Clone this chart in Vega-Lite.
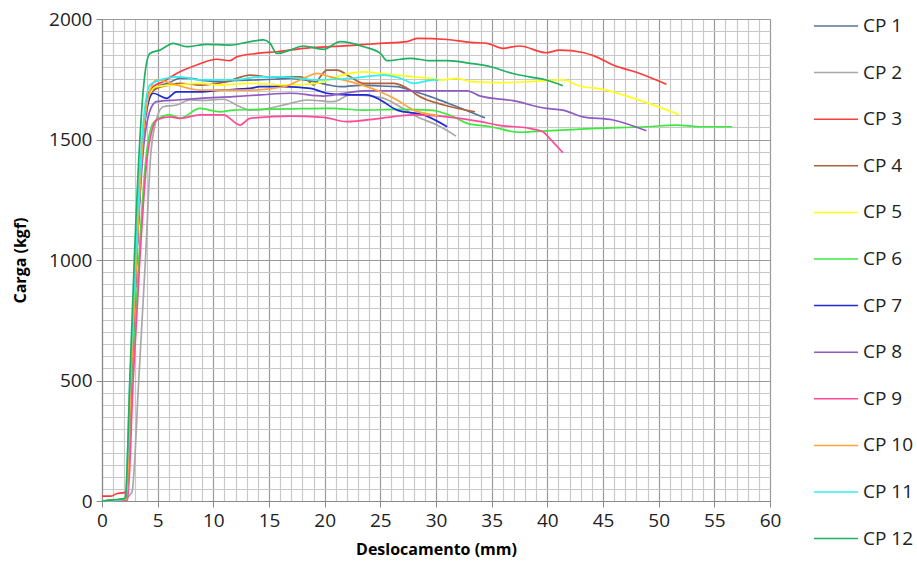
{
  "$schema": "https://vega.github.io/schema/vega-lite/v6.json",
  "autosize": {"type": "none"},
  "padding": {"left": 102, "top": 19, "right": 147, "bottom": 60},
  "width": 668,
  "height": 482,
  "background": "white",
  "config": {
    "view": {"stroke": null},
    "font": "Open Sans"
  },
  "datasets": {
    "curves": [
      {"cp":"CP 1","x":0,"y":0},{"cp":"CP 1","x":2.2,"y":10},{"cp":"CP 1","x":2.6,"y":500},{"cp":"CP 1","x":3.1,"y":1000},{"cp":"CP 1","x":3.6,"y":1450},{"cp":"CP 1","x":4.2,"y":1680},{"cp":"CP 1","x":5,"y":1720},{"cp":"CP 1","x":6,"y":1735},{"cp":"CP 1","x":7,"y":1754},{"cp":"CP 1","x":7.9,"y":1754},{"cp":"CP 1","x":9,"y":1745},{"cp":"CP 1","x":10.9,"y":1740},{"cp":"CP 1","x":12,"y":1745},{"cp":"CP 1","x":13.9,"y":1747},{"cp":"CP 1","x":15.5,"y":1750},{"cp":"CP 1","x":16.9,"y":1754},{"cp":"CP 1","x":18.5,"y":1745},{"cp":"CP 1","x":20,"y":1730},{"cp":"CP 1","x":21.4,"y":1719},{"cp":"CP 1","x":23.5,"y":1726},{"cp":"CP 1","x":25,"y":1722},{"cp":"CP 1","x":26.5,"y":1719},{"cp":"CP 1","x":28,"y":1700},{"cp":"CP 1","x":29.5,"y":1678},{"cp":"CP 1","x":31.9,"y":1636},{"cp":"CP 1","x":34.4,"y":1590},

      {"cp":"CP 2","x":0,"y":0},{"cp":"CP 2","x":2.0,"y":5},{"cp":"CP 2","x":2.5,"y":25},{"cp":"CP 2","x":2.7,"y":38},{"cp":"CP 2","x":3.3,"y":500},{"cp":"CP 2","x":3.9,"y":1000},{"cp":"CP 2","x":4.4,"y":1450},{"cp":"CP 2","x":5,"y":1600},{"cp":"CP 2","x":5.5,"y":1636},{"cp":"CP 2","x":6.7,"y":1643},{"cp":"CP 2","x":7.9,"y":1664},{"cp":"CP 2","x":9,"y":1662},{"cp":"CP 2","x":10.9,"y":1667},{"cp":"CP 2","x":12.4,"y":1636},{"cp":"CP 2","x":13.3,"y":1622},{"cp":"CP 2","x":14.5,"y":1625},{"cp":"CP 2","x":16.9,"y":1650},{"cp":"CP 2","x":18.4,"y":1664},{"cp":"CP 2","x":20.8,"y":1657},{"cp":"CP 2","x":22.3,"y":1685},{"cp":"CP 2","x":25,"y":1675},{"cp":"CP 2","x":27,"y":1630},{"cp":"CP 2","x":28.3,"y":1594},{"cp":"CP 2","x":30.1,"y":1560},{"cp":"CP 2","x":31.8,"y":1514},

      {"cp":"CP 3","x":0,"y":20},{"cp":"CP 3","x":0.8,"y":20},{"cp":"CP 3","x":1.3,"y":30},{"cp":"CP 3","x":2.0,"y":35},{"cp":"CP 3","x":2.2,"y":40},{"cp":"CP 3","x":2.6,"y":500},{"cp":"CP 3","x":3.1,"y":1000},{"cp":"CP 3","x":3.6,"y":1450},{"cp":"CP 3","x":4.1,"y":1680},{"cp":"CP 3","x":4.6,"y":1719},{"cp":"CP 3","x":5.5,"y":1740},{"cp":"CP 3","x":6.7,"y":1774},{"cp":"CP 3","x":8.5,"y":1809},{"cp":"CP 3","x":10.3,"y":1833},{"cp":"CP 3","x":11.5,"y":1827},{"cp":"CP 3","x":12.1,"y":1843},{"cp":"CP 3","x":13.9,"y":1857},{"cp":"CP 3","x":15.7,"y":1864},{"cp":"CP 3","x":18.1,"y":1878},{"cp":"CP 3","x":20.5,"y":1885},{"cp":"CP 3","x":22.9,"y":1892},{"cp":"CP 3","x":25,"y":1899},{"cp":"CP 3","x":27.4,"y":1906},{"cp":"CP 3","x":28.3,"y":1920},{"cp":"CP 3","x":31,"y":1915},{"cp":"CP 3","x":33.1,"y":1903},{"cp":"CP 3","x":34.6,"y":1899},{"cp":"CP 3","x":36,"y":1878},{"cp":"CP 3","x":37.5,"y":1888},{"cp":"CP 3","x":39.9,"y":1860},{"cp":"CP 3","x":41.1,"y":1871},{"cp":"CP 3","x":43.2,"y":1861},{"cp":"CP 3","x":44.4,"y":1843},{"cp":"CP 3","x":45.9,"y":1809},{"cp":"CP 3","x":48,"y":1779},{"cp":"CP 3","x":50.7,"y":1729},

      {"cp":"CP 4","x":0,"y":0},{"cp":"CP 4","x":2.2,"y":10},{"cp":"CP 4","x":2.6,"y":500},{"cp":"CP 4","x":3.1,"y":1000},{"cp":"CP 4","x":3.6,"y":1450},{"cp":"CP 4","x":4.2,"y":1680},{"cp":"CP 4","x":4.9,"y":1712},{"cp":"CP 4","x":6,"y":1725},{"cp":"CP 4","x":7,"y":1733},{"cp":"CP 4","x":8.8,"y":1726},{"cp":"CP 4","x":11.2,"y":1740},{"cp":"CP 4","x":13.3,"y":1767},{"cp":"CP 4","x":15.1,"y":1760},{"cp":"CP 4","x":17.8,"y":1760},{"cp":"CP 4","x":18.5,"y":1745},{"cp":"CP 4","x":19.0,"y":1726},{"cp":"CP 4","x":19.6,"y":1760},{"cp":"CP 4","x":20.2,"y":1788},{"cp":"CP 4","x":21.1,"y":1788},{"cp":"CP 4","x":22.3,"y":1760},{"cp":"CP 4","x":23.5,"y":1733},{"cp":"CP 4","x":26.2,"y":1733},{"cp":"CP 4","x":27.7,"y":1705},{"cp":"CP 4","x":28.3,"y":1685},{"cp":"CP 4","x":30.7,"y":1643},{"cp":"CP 4","x":33.5,"y":1615},

      {"cp":"CP 5","x":0,"y":0},{"cp":"CP 5","x":2.2,"y":10},{"cp":"CP 5","x":2.6,"y":500},{"cp":"CP 5","x":3.1,"y":1000},{"cp":"CP 5","x":3.6,"y":1450},{"cp":"CP 5","x":4.3,"y":1690},{"cp":"CP 5","x":4.9,"y":1719},{"cp":"CP 5","x":6.7,"y":1726},{"cp":"CP 5","x":8.8,"y":1733},{"cp":"CP 5","x":10.6,"y":1726},{"cp":"CP 5","x":13.3,"y":1733},{"cp":"CP 5","x":16.3,"y":1726},{"cp":"CP 5","x":19.3,"y":1733},{"cp":"CP 5","x":21.1,"y":1760},{"cp":"CP 5","x":22.0,"y":1772},{"cp":"CP 5","x":23.5,"y":1781},{"cp":"CP 5","x":25,"y":1774},{"cp":"CP 5","x":28,"y":1760},{"cp":"CP 5","x":29.5,"y":1754},{"cp":"CP 5","x":30.4,"y":1747},{"cp":"CP 5","x":31.9,"y":1754},{"cp":"CP 5","x":33.1,"y":1740},{"cp":"CP 5","x":36,"y":1736},{"cp":"CP 5","x":38.4,"y":1740},{"cp":"CP 5","x":41.4,"y":1747},{"cp":"CP 5","x":42.9,"y":1722},{"cp":"CP 5","x":45,"y":1708},{"cp":"CP 5","x":46.8,"y":1685},{"cp":"CP 5","x":48.9,"y":1653},{"cp":"CP 5","x":51.8,"y":1604},

      {"cp":"CP 6","x":0,"y":0},{"cp":"CP 6","x":2.2,"y":5},{"cp":"CP 6","x":2.7,"y":500},{"cp":"CP 6","x":3.3,"y":1000},{"cp":"CP 6","x":3.9,"y":1400},{"cp":"CP 6","x":4.5,"y":1560},{"cp":"CP 6","x":4.9,"y":1581},{"cp":"CP 6","x":6.1,"y":1602},{"cp":"CP 6","x":7,"y":1588},{"cp":"CP 6","x":8.8,"y":1629},{"cp":"CP 6","x":10.6,"y":1615},{"cp":"CP 6","x":11.8,"y":1622},{"cp":"CP 6","x":14.2,"y":1625},{"cp":"CP 6","x":17,"y":1627},{"cp":"CP 6","x":20.5,"y":1629},{"cp":"CP 6","x":23.5,"y":1622},{"cp":"CP 6","x":26.5,"y":1625},{"cp":"CP 6","x":29.5,"y":1622},{"cp":"CP 6","x":31.6,"y":1594},{"cp":"CP 6","x":32.8,"y":1567},{"cp":"CP 6","x":34.9,"y":1553},{"cp":"CP 6","x":37.5,"y":1530},{"cp":"CP 6","x":39.9,"y":1536},{"cp":"CP 6","x":44.4,"y":1546},{"cp":"CP 6","x":48.9,"y":1553},{"cp":"CP 6","x":51.6,"y":1560},{"cp":"CP 6","x":53.7,"y":1553},{"cp":"CP 6","x":56.6,"y":1553},

      {"cp":"CP 7","x":0,"y":0},{"cp":"CP 7","x":2.2,"y":8},{"cp":"CP 7","x":2.6,"y":500},{"cp":"CP 7","x":3.1,"y":1000},{"cp":"CP 7","x":3.6,"y":1450},{"cp":"CP 7","x":4.2,"y":1660},{"cp":"CP 7","x":4.6,"y":1692},{"cp":"CP 7","x":5.8,"y":1671},{"cp":"CP 7","x":6.7,"y":1698},{"cp":"CP 7","x":8.8,"y":1698},{"cp":"CP 7","x":10.6,"y":1705},{"cp":"CP 7","x":13.3,"y":1712},{"cp":"CP 7","x":14.2,"y":1719},{"cp":"CP 7","x":16.3,"y":1719},{"cp":"CP 7","x":18.7,"y":1712},{"cp":"CP 7","x":20.2,"y":1692},{"cp":"CP 7","x":22,"y":1685},{"cp":"CP 7","x":23.8,"y":1685},{"cp":"CP 7","x":25,"y":1664},{"cp":"CP 7","x":26.5,"y":1622},{"cp":"CP 7","x":28.9,"y":1602},{"cp":"CP 7","x":31,"y":1553},

      {"cp":"CP 8","x":0,"y":0},{"cp":"CP 8","x":2.2,"y":8},{"cp":"CP 8","x":2.6,"y":500},{"cp":"CP 8","x":3.1,"y":1000},{"cp":"CP 8","x":3.7,"y":1450},{"cp":"CP 8","x":4.4,"y":1630},{"cp":"CP 8","x":4.9,"y":1657},{"cp":"CP 8","x":6.7,"y":1664},{"cp":"CP 8","x":8.8,"y":1671},{"cp":"CP 8","x":11.8,"y":1678},{"cp":"CP 8","x":14.2,"y":1685},{"cp":"CP 8","x":16.9,"y":1692},{"cp":"CP 8","x":19.9,"y":1680},{"cp":"CP 8","x":21.5,"y":1690},{"cp":"CP 8","x":23.5,"y":1702},{"cp":"CP 8","x":28,"y":1702},{"cp":"CP 8","x":32.8,"y":1702},{"cp":"CP 8","x":34,"y":1680},{"cp":"CP 8","x":36.9,"y":1661},{"cp":"CP 8","x":39.9,"y":1629},{"cp":"CP 8","x":41.4,"y":1622},{"cp":"CP 8","x":43.2,"y":1594},{"cp":"CP 8","x":45.9,"y":1581},{"cp":"CP 8","x":48.9,"y":1536},

      {"cp":"CP 9","x":0,"y":0},{"cp":"CP 9","x":2.3,"y":5},{"cp":"CP 9","x":2.8,"y":500},{"cp":"CP 9","x":3.4,"y":1000},{"cp":"CP 9","x":4.0,"y":1400},{"cp":"CP 9","x":4.5,"y":1540},{"cp":"CP 9","x":4.9,"y":1581},{"cp":"CP 9","x":6.1,"y":1594},{"cp":"CP 9","x":7,"y":1588},{"cp":"CP 9","x":8.8,"y":1602},{"cp":"CP 9","x":10.9,"y":1602},{"cp":"CP 9","x":12.4,"y":1560},{"cp":"CP 9","x":13.3,"y":1588},{"cp":"CP 9","x":16.9,"y":1597},{"cp":"CP 9","x":19.9,"y":1592},{"cp":"CP 9","x":22,"y":1574},{"cp":"CP 9","x":25,"y":1588},{"cp":"CP 9","x":28,"y":1602},{"cp":"CP 9","x":31,"y":1594},{"cp":"CP 9","x":34,"y":1574},{"cp":"CP 9","x":35.5,"y":1560},{"cp":"CP 9","x":38.4,"y":1546},{"cp":"CP 9","x":39.6,"y":1532},{"cp":"CP 9","x":40.2,"y":1505},{"cp":"CP 9","x":41.4,"y":1445},

      {"cp":"CP 10","x":0,"y":0},{"cp":"CP 10","x":2.2,"y":8},{"cp":"CP 10","x":2.6,"y":500},{"cp":"CP 10","x":3.1,"y":1000},{"cp":"CP 10","x":3.6,"y":1450},{"cp":"CP 10","x":4.3,"y":1700},{"cp":"CP 10","x":4.9,"y":1747},{"cp":"CP 10","x":6.7,"y":1726},{"cp":"CP 10","x":8.8,"y":1705},{"cp":"CP 10","x":11.8,"y":1705},{"cp":"CP 10","x":13.3,"y":1705},{"cp":"CP 10","x":16.3,"y":1719},{"cp":"CP 10","x":18.4,"y":1760},{"cp":"CP 10","x":19.3,"y":1774},{"cp":"CP 10","x":20.5,"y":1760},{"cp":"CP 10","x":22.3,"y":1740},{"cp":"CP 10","x":25,"y":1698},{"cp":"CP 10","x":26.5,"y":1664},{"cp":"CP 10","x":28,"y":1622},{"cp":"CP 10","x":29.5,"y":1604},{"cp":"CP 10","x":30.2,"y":1600},

      {"cp":"CP 11","x":0,"y":0},{"cp":"CP 11","x":2.1,"y":8},{"cp":"CP 11","x":2.5,"y":500},{"cp":"CP 11","x":3.0,"y":1000},{"cp":"CP 11","x":3.5,"y":1450},{"cp":"CP 11","x":4.0,"y":1680},{"cp":"CP 11","x":4.3,"y":1726},{"cp":"CP 11","x":5.8,"y":1754},{"cp":"CP 11","x":7,"y":1760},{"cp":"CP 11","x":8.8,"y":1747},{"cp":"CP 11","x":11.8,"y":1747},{"cp":"CP 11","x":14.2,"y":1760},{"cp":"CP 11","x":16.3,"y":1760},{"cp":"CP 11","x":19.3,"y":1747},{"cp":"CP 11","x":22.3,"y":1754},{"cp":"CP 11","x":25.3,"y":1767},{"cp":"CP 11","x":26.8,"y":1754},{"cp":"CP 11","x":28,"y":1733},{"cp":"CP 11","x":29.8,"y":1747},{"cp":"CP 11","x":30.2,"y":1745},

      {"cp":"CP 12","x":0,"y":0},{"cp":"CP 12","x":1.0,"y":5},{"cp":"CP 12","x":2.0,"y":10},{"cp":"CP 12","x":2.1,"y":15},{"cp":"CP 12","x":2.5,"y":500},{"cp":"CP 12","x":2.9,"y":1000},{"cp":"CP 12","x":3.4,"y":1500},{"cp":"CP 12","x":3.8,"y":1750},{"cp":"CP 12","x":4.3,"y":1857},{"cp":"CP 12","x":5.2,"y":1871},{"cp":"CP 12","x":6.4,"y":1899},{"cp":"CP 12","x":7.6,"y":1885},{"cp":"CP 12","x":9.4,"y":1895},{"cp":"CP 12","x":11.5,"y":1892},{"cp":"CP 12","x":13,"y":1903},{"cp":"CP 12","x":14.5,"y":1913},{"cp":"CP 12","x":15.1,"y":1899},{"cp":"CP 12","x":15.7,"y":1857},{"cp":"CP 12","x":16.9,"y":1871},{"cp":"CP 12","x":18.1,"y":1888},{"cp":"CP 12","x":19.9,"y":1874},{"cp":"CP 12","x":21.4,"y":1906},{"cp":"CP 12","x":23.5,"y":1885},{"cp":"CP 12","x":25,"y":1857},{"cp":"CP 12","x":25.6,"y":1827},{"cp":"CP 12","x":27.7,"y":1837},{"cp":"CP 12","x":29.5,"y":1827},{"cp":"CP 12","x":31,"y":1827},{"cp":"CP 12","x":33.1,"y":1816},{"cp":"CP 12","x":34.9,"y":1802},{"cp":"CP 12","x":36.9,"y":1774},{"cp":"CP 12","x":38.4,"y":1760},{"cp":"CP 12","x":39.9,"y":1747},{"cp":"CP 12","x":41.4,"y":1723}
    ]
  },
  "data": {"name": "curves"},
  "mark": {"type": "line", "strokeWidth": 1.7, "interpolate": "monotone"},
  "encoding": {
    "x": {
      "field": "x", "type": "quantitative",
      "scale": {"domain": [0, 60], "nice": false, "zero": false},
      "axis": {
        "title": "Deslocamento (mm)",
        "titleFont": "Open Sans", "titleFontSize": 16, "titleFontWeight": "bold", "titleColor": "#000",
        "titlePadding": 11,
        "values": [0,1,2,3,4,5,6,7,8,9,10,11,12,13,14,15,16,17,18,19,20,21,22,23,24,25,26,27,28,29,30,31,32,33,34,35,36,37,38,39,40,41,42,43,44,45,46,47,48,49,50,51,52,53,54,55,56,57,58,59,60],
        "labelExpr": "datum.value % 5 === 0 ? datum.label : ''",
        "labelFont": "Open Sans", "labelFontSize": 19, "labelColor": "#222", "labelPadding": 4,
        "labelFlush": false, "labelOverlap": false,
        "grid": true,
        "gridColor": {"condition": {"test": "datum.value % 5 === 0", "value": "#9a9a9a"}, "value": "#c8c8c8"},
        "gridWidth": 1.2,
        "tickSize": {"condition": {"test": "datum.value % 5 === 0", "value": 6}, "value": 0},
        "tickColor": "#8a8a8a",
        "domainColor": "#8a8a8a", "domainWidth": 1.2
      }
    },
    "y": {
      "field": "y", "type": "quantitative",
      "scale": {"domain": [0, 2000], "nice": false},
      "axis": {
        "title": "Carga (kgf)",
        "titleFont": "Open Sans", "titleFontSize": 16, "titleFontWeight": "bold", "titleColor": "#000",
        "titlePadding": 20,
        "values": [0,50,100,150,200,250,300,350,400,450,500,550,600,650,700,750,800,850,900,950,1000,1050,1100,1150,1200,1250,1300,1350,1400,1450,1500,1550,1600,1650,1700,1750,1800,1850,1900,1950,2000],
        "labelExpr": "datum.value % 500 === 0 ? datum.label : ''",
        "format": "d",
        "labelFont": "Open Sans", "labelFontSize": 19, "labelColor": "#222", "labelPadding": 4,
        "labelFlush": false, "labelOverlap": false,
        "grid": true,
        "gridColor": {"condition": {"test": "datum.value % 500 === 0", "value": "#9a9a9a"}, "value": "#c8c8c8"},
        "gridWidth": 1.2,
        "tickSize": {"condition": {"test": "datum.value % 500 === 0", "value": 6}, "value": 0},
        "tickColor": "#8a8a8a",
        "domainColor": "#8a8a8a", "domainWidth": 1.2
      }
    },
    "color": {
      "field": "cp", "type": "nominal",
      "scale": {
        "domain": ["CP 1","CP 2","CP 3","CP 4","CP 5","CP 6","CP 7","CP 8","CP 9","CP 10","CP 11","CP 12"],
        "range": ["#57739a","#a8a8a8","#ff3b3b","#b0603a","#ffff1a","#3ee83e","#1f2bd8","#9159c4","#ff4a9a","#ffa43a","#2ff0f0","#1fb060"]
      },
      "legend": {
        "title": null,
        "orient": "none",
        "legendX": 711,
        "legendY": -16,
        "direction": "vertical",
        "symbolType": "stroke",
        "symbolSize": 1936,
        "symbolStrokeWidth": 1.5,
        "labelFont": "Open Sans",
        "labelFontSize": 19,
        "labelColor": "#222",
        "labelOffset": 4,
        "rowPadding": 13.6,
        "padding": 0
      }
    }
  }
}
